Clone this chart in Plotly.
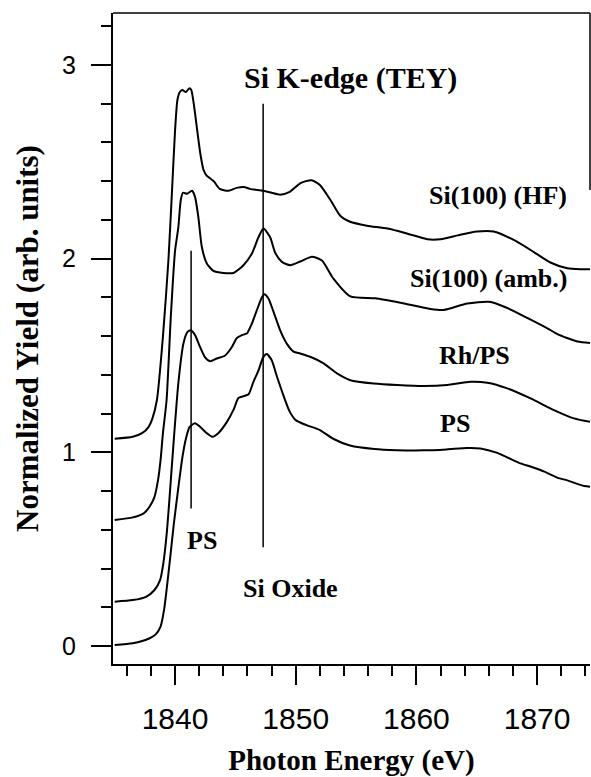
import plotly.graph_objects as go

# ---------------- data ----------------
energy_hf = [1835.0, 1836.5, 1837.3, 1837.8, 1838.1, 1838.5, 1839.0, 1839.45, 1839.75, 1840.0,
             1840.2, 1840.4, 1840.6, 1840.9, 1841.2, 1841.35, 1841.55, 1841.8, 1842.1, 1842.35,
             1842.6, 1843.2, 1843.7, 1844.4, 1845.1, 1845.7, 1846.2, 1847.3, 1848.0, 1848.7,
             1849.5, 1850.4, 1851.3, 1852.0, 1852.9, 1853.7, 1854.5, 1855.9, 1857.6, 1859.2,
             1860.9, 1862.0, 1863.4, 1865.0, 1866.4, 1868.1, 1869.7, 1871.1, 1872.5, 1873.6, 1875.0]
yield_hf = [1.07, 1.08, 1.10, 1.13, 1.17, 1.27, 1.60, 1.99, 2.35, 2.66,
            2.82, 2.86, 2.87, 2.86, 2.88, 2.87, 2.80, 2.68, 2.54, 2.46,
            2.43, 2.40, 2.36, 2.35, 2.365, 2.37, 2.36, 2.35, 2.34, 2.33,
            2.345, 2.39, 2.405, 2.38, 2.30, 2.22, 2.19, 2.17, 2.155, 2.13,
            2.10, 2.10, 2.12, 2.14, 2.14, 2.095, 2.035, 1.98, 1.95, 1.945, 1.945]

energy_amb = [1835.0, 1836.5, 1837.4, 1837.9, 1838.3, 1838.6, 1838.8, 1839.0, 1839.3, 1839.65,
              1840.0, 1840.27, 1840.47, 1840.65, 1841.0, 1841.4, 1841.65, 1841.93, 1842.22, 1842.63,
              1843.18, 1844.0, 1844.84, 1845.67, 1846.37, 1846.91, 1847.33, 1847.88, 1848.3, 1848.85,
              1849.54, 1850.37, 1851.34, 1852.17, 1853.14, 1854.52, 1856.6, 1858.67, 1861.16, 1862.27,
              1864.21, 1866.0, 1867.53, 1869.3, 1870.85, 1871.68, 1873.34, 1875.0]
yield_amb = [0.65, 0.664, 0.685, 0.72, 0.77, 0.86, 0.96, 1.10, 1.27, 1.70,
             2.04, 2.16, 2.30, 2.34, 2.335, 2.35, 2.32, 2.215, 2.06, 1.975,
             1.937, 1.926, 1.926, 1.966, 2.026, 2.11, 2.155, 2.11, 2.03, 1.983,
             1.966, 1.985, 2.01, 1.99, 1.895, 1.805, 1.795, 1.772, 1.74, 1.735,
             1.768, 1.777, 1.745, 1.69, 1.64, 1.61, 1.572, 1.562]

energy_rh = [1835.0, 1836.5, 1837.6, 1838.3, 1838.76, 1839.03, 1839.31, 1839.53, 1839.73, 1840.0,
             1840.27, 1840.69, 1841.02, 1841.3, 1841.66, 1842.07, 1842.49, 1842.9, 1843.46, 1844.15,
             1844.71, 1845.12, 1845.54, 1845.95, 1846.37, 1846.78, 1847.2, 1847.41, 1847.74, 1848.16,
             1848.71, 1849.27, 1849.82, 1850.37, 1851.2, 1852.31, 1853.42, 1854.52, 1856.46, 1858.4,
             1860.61, 1862.55, 1864.48, 1865.87, 1867.53, 1869.46, 1871.39, 1873.05, 1875.0]
yield_rh = [0.229, 0.237, 0.254, 0.289, 0.34, 0.427, 0.58, 0.753, 0.925, 1.15,
            1.355, 1.56, 1.62, 1.63, 1.605, 1.544, 1.49, 1.47, 1.484, 1.50,
            1.544, 1.59, 1.605, 1.613, 1.665, 1.734, 1.80, 1.816, 1.794, 1.725,
            1.63, 1.56, 1.52, 1.51, 1.493, 1.459, 1.407, 1.372, 1.355, 1.347,
            1.342, 1.347, 1.364, 1.359, 1.33, 1.278, 1.218, 1.175, 1.15]

energy_ps = [1835.0, 1836.5, 1837.9, 1838.4, 1838.8, 1839.1, 1839.5, 1839.9, 1840.3, 1840.6,
             1840.9, 1841.2, 1841.65, 1842.1, 1842.6, 1843.1, 1843.6, 1844.3, 1844.85, 1845.25,
             1845.7, 1846.1, 1846.5, 1846.9, 1847.3, 1847.6, 1848.0, 1848.45, 1849.0, 1849.5,
             1850.0, 1850.9, 1852.0, 1853.1, 1854.5, 1856.5, 1858.4, 1860.6, 1862.5, 1864.2,
             1865.3, 1866.7, 1868.6, 1869.5, 1870.6, 1871.7, 1872.5, 1873.9, 1875.0]
yield_ps = [0.005, 0.014, 0.04, 0.06, 0.10, 0.19, 0.40, 0.63, 0.83, 0.97,
            1.07, 1.13, 1.15, 1.13, 1.10, 1.08, 1.10, 1.157, 1.22, 1.28,
            1.29, 1.30, 1.365, 1.42, 1.49, 1.507, 1.476, 1.39, 1.29, 1.21,
            1.166, 1.14, 1.115, 1.07, 1.035, 1.017, 1.011, 1.010, 1.015, 1.022,
            1.02, 0.997, 0.943, 0.925, 0.90, 0.868, 0.855, 0.826, 0.82]

# marker lines: energy, y-start, y-end
marker_energy = [1841.33, 1847.3]
marker_top = [2.04, 2.80]
marker_bottom = [0.71, 0.51]

x_tick_vals = [1840, 1850, 1860, 1870]
y_tick_vals = [0, 1, 2, 3]

# labels: text, energy, yield
label_text = ["<b>Si K-edge (TEY)</b>", "<b>Si(100) (HF)</b>", "<b>Si(100) (amb.)</b>",
              "<b>Rh/PS</b>", "<b>PS</b>", "<b>PS</b>", "<b>Si Oxide</b>"]
label_x = [1854.5, 1866.76, 1865.93, 1864.85, 1863.2, 1842.24, 1849.53]
label_y = [2.93, 2.327, 1.899, 1.502, 1.151, 0.547, 0.299]
label_size = [30, 26, 26, 26, 26, 26, 26]

# ---------------- figure ----------------
SERIF = "Liberation Serif, Times New Roman, serif"
SANS = "Liberation Sans, Arial, sans-serif"

fig = go.Figure()
line_style = dict(color="black", width=2, shape="spline", smoothing=0.6)
for ex, ey, nm in [(energy_hf, yield_hf, "Si(100) (HF)"),
                   (energy_amb, yield_amb, "Si(100) (amb.)"),
                   (energy_rh, yield_rh, "Rh/PS"),
                   (energy_ps, yield_ps, "PS")]:
    fig.add_trace(go.Scatter(x=ex, y=ey, mode="lines", line=line_style, name=nm,
                             showlegend=False, hoverinfo="skip"))

for mx, mt, mb in zip(marker_energy, marker_top, marker_bottom):
    fig.add_trace(go.Scatter(x=[mx, mx], y=[mb, mt], mode="lines",
                             line=dict(color="black", width=1.5),
                             showlegend=False, hoverinfo="skip"))

for t, lx, ly, fs in zip(label_text, label_x, label_y, label_size):
    fig.add_annotation(x=lx, y=ly, text=t, showarrow=False,
                       font=dict(family=SERIF, size=fs, color="black"),
                       xanchor="center", yanchor="middle")

# frame: top border and partial right border
fig.add_shape(type="line", xref="paper", yref="paper", x0=0, x1=1, y0=1, y1=1,
              line=dict(color="black", width=1.5))
fig.add_shape(type="line", xref="paper", yref="paper", x0=1, x1=1, y0=0.728, y1=1,
              line=dict(color="black", width=1.5))

fig.update_layout(
    width=591, height=777,
    margin=dict(l=113, r=1, t=13, b=113),
    paper_bgcolor="white", plot_bgcolor="white",
    xaxis=dict(
        range=[1834.86, 1874.38],
        tickvals=x_tick_vals,
        ticktext=[str(v) for v in x_tick_vals],
        ticks="outside", ticklen=19, tickwidth=1.5, tickcolor="black",
        minor=dict(tick0=1836, dtick=2, ticks="outside", ticklen=10, tickwidth=1.5, tickcolor="black"),
        showline=True, linewidth=2, linecolor="black",
        showgrid=False, zeroline=False,
        tickfont=dict(family=SANS, size=30, color="black"),
        ticklabelstandoff=8,
        title=dict(text="<b>Photon Energy (eV)</b>",
                   font=dict(family=SERIF, size=29, color="black"), standoff=20),
    ),
    yaxis=dict(
        range=[-0.093, 3.268],
        tickvals=y_tick_vals,
        ticktext=[str(v) for v in y_tick_vals],
        ticks="outside", ticklen=20, tickwidth=1.5, tickcolor="black",
        minor=dict(tick0=0, dtick=0.2, ticks="outside", ticklen=10, tickwidth=1.5, tickcolor="black"),
        showline=True, linewidth=2, linecolor="black",
        showgrid=False, zeroline=False,
        tickfont=dict(family=SANS, size=25, color="black"),
        ticklabelstandoff=10,
        title=dict(text="<b>Normalized Yield (arb. units)</b>",
                   font=dict(family=SERIF, size=31, color="black"), standoff=14),
    ),
)

fig.write_html("out.html")
